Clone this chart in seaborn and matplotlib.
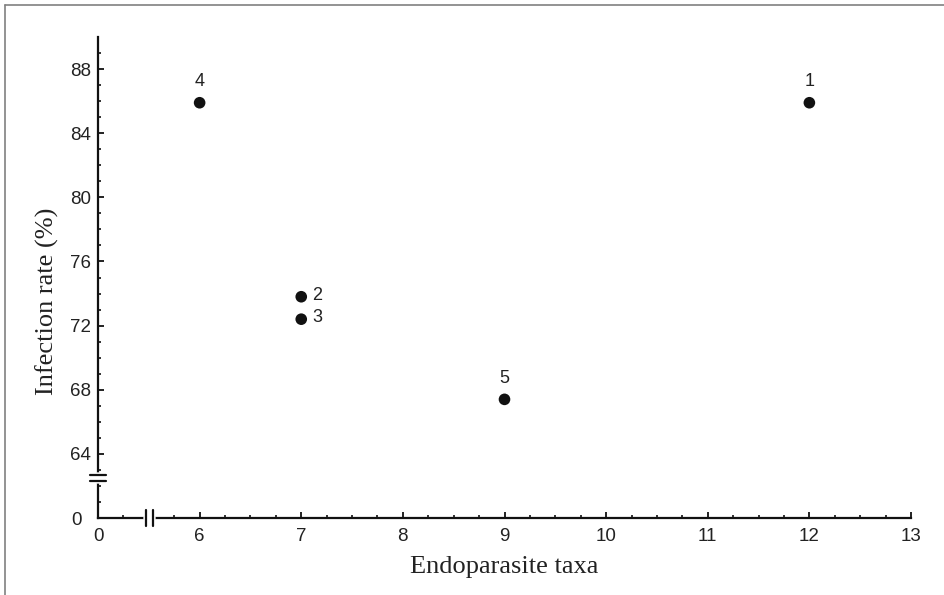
import matplotlib
matplotlib.use('agg')
import matplotlib.pyplot as plt
import matplotlib.transforms as mtransforms
from matplotlib.lines import Line2D
import pandas as pd
import numpy as np
import seaborn as sns

# data
host_ids = ['1', '2', '3', '4', '5']
endoparasite_taxa = [12, 7, 7, 6, 9]
infection_rate = [85.9, 73.8, 72.4, 85.9, 67.4]
label_side = ['above', 'right', 'right', 'above', 'above']

x_ticks = [5, 6, 7, 8, 9, 10, 11, 12, 13]
x_ticklabels = ['0', '6', '7', '8', '9', '10', '11', '12', '13']
y_ticks = [60, 64, 68, 72, 76, 80, 84, 88]
y_ticklabels = ['0', '64', '68', '72', '76', '80', '84', '88']

df = pd.DataFrame({'taxa': endoparasite_taxa, 'rate': infection_rate, 'id': host_ids})

sns.set_style('white')
plt.rcParams['font.family'] = ['Liberation Sans', 'DejaVu Sans']

fig = plt.figure(figsize=(9.44, 5.95), dpi=100)
ax = fig.add_axes([98 / 944, 77 / 595, 813 / 944, 481 / 595])

sns.scatterplot(data=df, x='taxa', y='rate', color='#111111', s=70,
                edgecolor='none', ax=ax, clip_on=False, zorder=5)

for i, row in df.iterrows():
    if label_side[i] == 'above':
        ax.annotate(row['id'], (row['taxa'], row['rate']), xytext=(0, 9),
                    textcoords='offset points', ha='center', va='bottom',
                    fontsize=13, color='#222222')
    else:
        ax.annotate(row['id'], (row['taxa'], row['rate']), xytext=(8, 1),
                    textcoords='offset points', ha='left', va='center',
                    fontsize=13, color='#222222')

ax.set_xlim(5, 13)
ax.set_ylim(60, 90)
ax.set_xticks(x_ticks)
ax.set_xticklabels(x_ticklabels)
ax.set_yticks(y_ticks)
ax.set_yticklabels(y_ticklabels)
xminor = [v for v in np.arange(5.25, 13, 0.25) if v % 1 != 0 and v != 5.5]
yminor = [v for v in range(61, 90) if v % 4 != 0]
ax.set_xticks(xminor, minor=True)
ax.set_yticks(yminor, minor=True)

ax.tick_params(axis='both', which='both', bottom=True, left=True, top=False, right=False)
ax.tick_params(axis='both', which='major', direction='in', length=4.5, width=1.3,
               labelsize=13.5, labelcolor='#222222', color='#111111')
ax.tick_params(axis='both', which='minor', direction='in', length=2.5, width=1.2,
               color='#111111')
ax.tick_params(axis='x', which='major', pad=7)
ax.tick_params(axis='y', which='major', pad=5)

# the "0" on the y axis sits a bit further left
zero_lab = ax.get_yticklabels()[0]
zero_lab.set_transform(zero_lab.get_transform() +
                       mtransforms.ScaledTranslation(-9 / 100, 0, fig.dpi_scale_trans))

for side in ['top', 'right']:
    ax.spines[side].set_visible(False)
for side in ['left', 'bottom']:
    ax.spines[side].set_linewidth(1.6)
    ax.spines[side].set_color('#111111')

ax.set_xlabel('Endoparasite taxa', fontsize=19, family='Liberation Serif', color='#222222')
ax.set_ylabel('Infection rate (%)', fontsize=19, family='Liberation Serif', color='#222222')
ax.xaxis.set_label_coords(0.5, -0.079)
ax.yaxis.set_label_coords(-0.048, 0.45)

# axis breaks
ax.plot([5.47, 5.54], [60, 60], color='white', lw=4, clip_on=False, zorder=6)
for xb in [5.47, 5.54]:
    ax.plot([xb, xb], [59.5, 60.5], color='#111111', lw=1.6, clip_on=False, zorder=7)
ax.plot([5, 5], [62.31, 62.69], color='white', lw=4, clip_on=False, zorder=6)
for yb in [62.31, 62.69]:
    ax.plot([4.926, 5.074], [yb, yb], color='#111111', lw=1.6, clip_on=False, zorder=7)

# gray frame along top and left edge
fig.add_artist(Line2D([4.7 / 944, 1], [1 - 4.7 / 595, 1 - 4.7 / 595],
                      transform=fig.transFigure, color='#808080', lw=1.2))
fig.add_artist(Line2D([4.7 / 944, 4.7 / 944], [0, 1 - 4.7 / 595],
                      transform=fig.transFigure, color='#808080', lw=1.2))

fig.savefig('out.png', dpi=100, facecolor='white')
